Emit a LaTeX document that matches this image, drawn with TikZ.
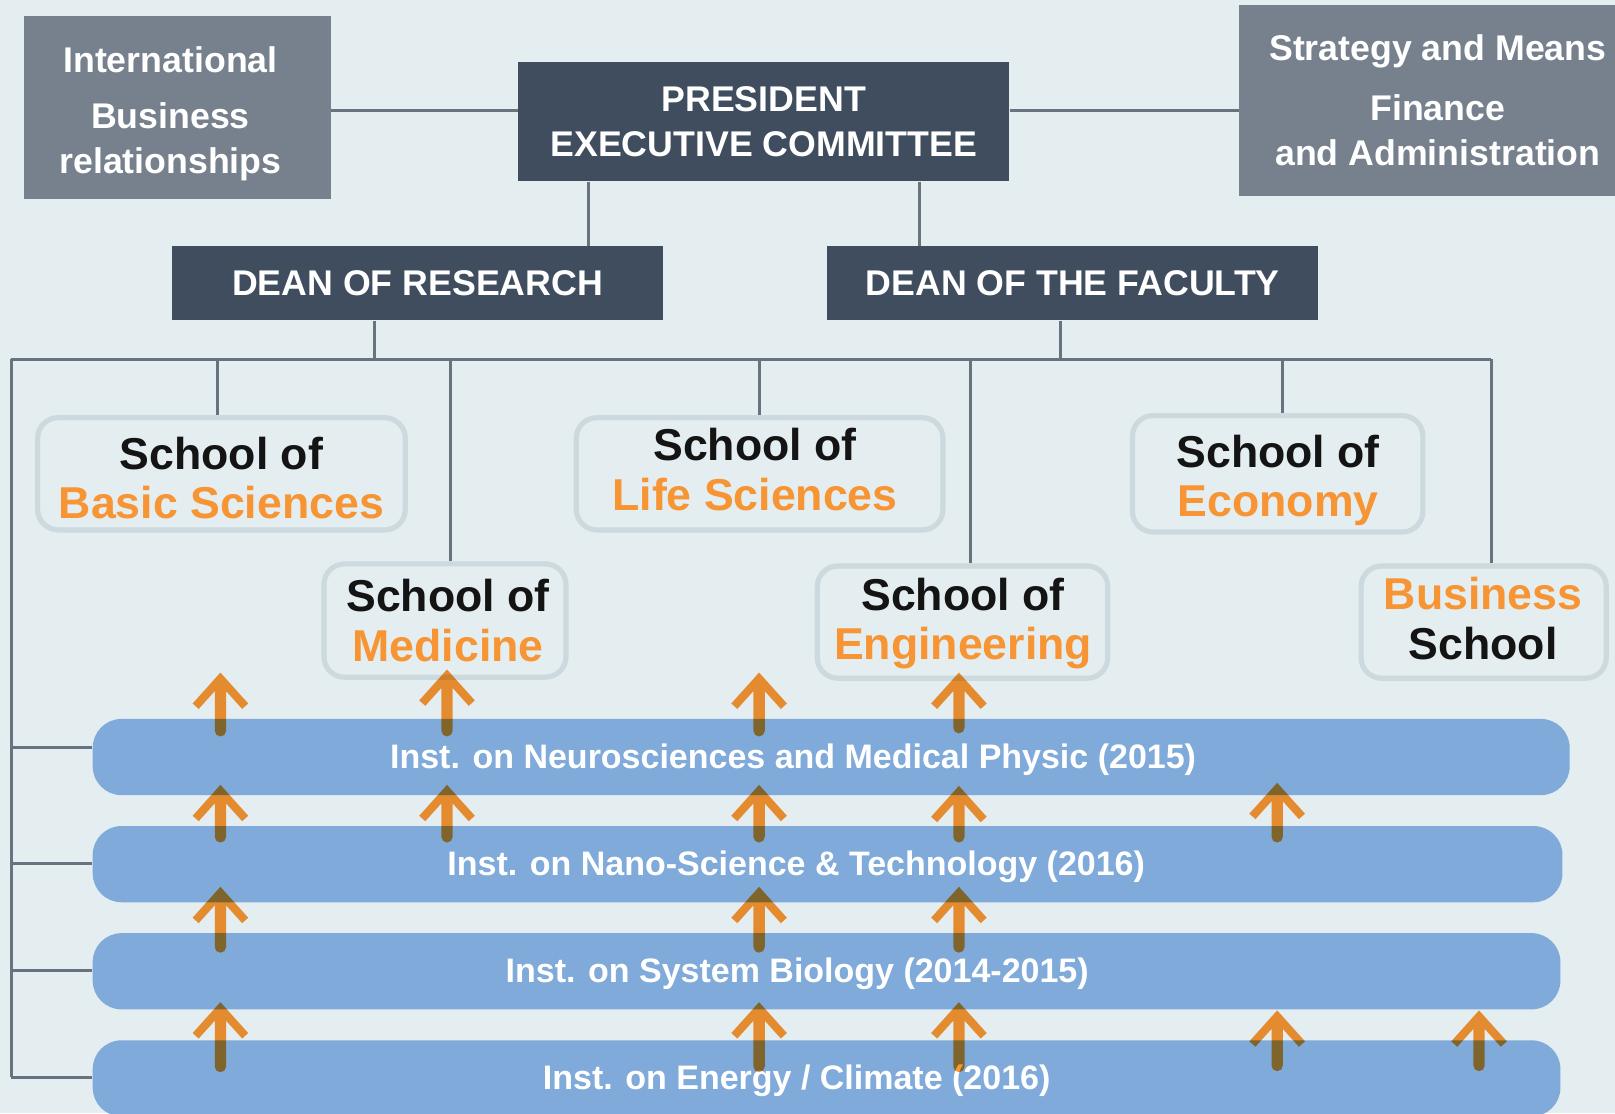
\documentclass[tikz,border=0pt]{standalone}
\usepackage{fontspec}
\setmainfont{Liberation Sans}
\usepackage{tikz}
\definecolor{orangetxt}{RGB}{247,148,51}

\begin{document}
\begin{tikzpicture}[x=0.75pt,y=0.75pt,yscale=-1,xscale=1,
  link/.style={draw={rgb, 255:red, 104; green, 115; blue, 128 }, line width=2.25pt},
  sidebox/.style={fill={rgb, 255:red, 118; green, 129; blue, 141 }, text=white, align=center, inner sep=0pt, font=\bfseries\fontsize{26}{33}\selectfont},
  headbox/.style={fill={rgb, 255:red, 63; green, 77; blue, 94 }, text=white, align=center, inner sep=0pt, font=\bfseries\fontsize{26}{33}\selectfont},
  school/.style={draw={rgb, 255:red, 204; green, 217; blue, 223 }, line width=3.75pt, rounded corners=15pt, fill={rgb, 255:red, 228; green, 237; blue, 240 }, inner sep=0pt},
  schooltext/.style={align=center, inner sep=0pt, text={rgb, 255:red, 20; green, 20; blue, 20 }, font=\bfseries\fontsize{32.5}{36}\selectfont},
  band/.style={fill={rgb, 255:red, 127; green, 170; blue, 218 }, rounded corners=21pt, inner sep=0pt, minimum height=55.5pt},
  bandtext/.style={text=white, font=\bfseries\fontsize{24.75}{30}\selectfont},
  arr/.style={fill={rgb, 255:red, 255; green, 150; blue, 52 }}
]
%set diagram left start at 0, and has height of 1081
\useasboundingbox (0,0) rectangle (1568,1081);
\fill[fill={rgb, 255:red, 228; green, 237; blue, 240 }] (0,0) rectangle (1568,1081);

%Shape: Rectangle [id:intl]
\node[sidebox, minimum width=223.5pt, minimum height=132.75pt] (intl) at (172,104.5) {};
% Text Node
\node[sidebox, fill=none] (intltext) at (165.5,110.5) {International\\[7.5pt]Business\\relationships};
%Shape: Rectangle [id:strat]
\node[sidebox, minimum width=289.5pt, minimum height=138.75pt] (strat) at (1396,97.5) {Strategy and Means\\[10.5pt]Finance\\and Administration};
%Shape: Rectangle [id:pres]
\node[headbox, minimum width=357.75pt, minimum height=87pt] (pres) at (741.5,118) {PRESIDENT\\EXECUTIVE COMMITTEE};
%Shape: Rectangle [id:research]
\node[headbox, minimum width=357.75pt, minimum height=54pt] (research) at (405.5,275) {DEAN OF RESEARCH};
%Shape: Rectangle [id:faculty]
\node[headbox, minimum width=357.75pt, minimum height=54pt] (faculty) at (1041.5,275) {DEAN OF THE FACULTY};

%Rounded Rect [id:schools]
\node[school, minimum width=267.75pt, minimum height=81.75pt] (basic) at (215,460) {};
\node[school, minimum width=176.25pt, minimum height=82.5pt] (medicine) at (432,602.5) {};
\node[school, minimum width=267pt, minimum height=81.75pt] (life) at (737.5,460) {};
\node[school, minimum width=211.5pt, minimum height=81.75pt] (engineering) at (934.5,604) {};
\node[school, minimum width=211.5pt, minimum height=84.75pt] (economy) at (1240.5,460) {};
\node[school, minimum width=178.5pt, minimum height=81.75pt] (business) at (1440.5,604) {};

% Text Node
\node[schooltext] (basictext) at (215,464) {School of\\\textcolor{orangetxt}{Basic Sciences}};
% Text Node
\node[schooltext] (medicinetext) at (435,602.5) {School of\\\textcolor{orangetxt}{Medicine}};
% Text Node
\node[schooltext] (lifetext) at (733,456) {School of\\\textcolor{orangetxt}{Life Sciences}};
% Text Node
\node[schooltext] (engineeringtext) at (935,605.5) {School of\\\textcolor{orangetxt}{Engineering}};
% Text Node
\node[schooltext] (economytext) at (1241,466.5) {School of\\\textcolor{orangetxt}{Economy}};
% Text Node
\node[schooltext] (businesstext) at (1440,600.5) {\textcolor{orangetxt}{Business}\\School};

%Rounded Rect [id:institutes]
\node[band, minimum width=1075.5pt] (neuro) at (807,735) {};
\node[band, minimum width=1070.25pt] (nano) at (803.5,839) {};
\node[band, minimum width=1068.75pt] (sysbio) at (802.5,943) {};
\node[band, minimum width=1068.75pt] (energy) at (802.5,1047) {};

% Text Node
\node[bandtext] (neurotext) at (770,738) {Inst. on Neurosciences and Medical Physic (2015)};
% Text Node
\node[bandtext] (nanotext) at (773,841.5) {Inst. on Nano-Science \& Technology (2016)};
% Text Node
\node[bandtext] (sysbiotext) at (774,945.5) {Inst. on System Biology (2014-2015)};
% Text Node
\node[bandtext] (energytext) at (773.5,1049.5) {Inst. on Energy / Climate (2016)};

%Straight Lines [id:top]
\coordinate (lt) at (400,107);
\draw[link] (intl.east |- lt) -- (pres.west |- lt);
\draw[link] (pres.east |- lt) -- (strat.west |- lt);
\coordinate (pl) at (571,0);
\coordinate (pr) at (893,0);
\draw[link] (pres.south -| pl) -- (research.north -| pl);
\draw[link] (pres.south -| pr) -- (faculty.north -| pr);

%Straight Lines [id:bus]
\coordinate (busl) at (11,349);
\coordinate (busr) at (1448,349);
\coordinate (dr) at (364,349);
\coordinate (df) at (1030,349);
\draw[link] (busl) -- (busr);
\draw[link] (research.south -| dr) -- (dr);
\draw[link] (faculty.south -| df) -- (df);
\foreach \n/\x in {basic/211, medicine/437, life/737, engineering/942, economy/1245, business/1448}{
  \coordinate (d\n) at (\x,349);
  \draw[link] (d\n) -- (d\n |- \n.north);
}

%Straight Lines [id:left]
\foreach \n/\y in {neuro/726, nano/838, sysbio/942, energy/1046}{
  \coordinate (l\n) at (11,\y);
  \draw[link] (l\n) -- (l\n -| \n.west);
}
\draw[link] (busl) -- (lenergy);

%Shape: Arrows [id:up]
\begin{scope}[blend mode=multiply]
\foreach \ax/\at/\ab in {214/653/715, 434/650/715, 737/653/715, 931/653/712,
    214/762/818, 434/762/818, 737/762/818, 931/763/818, 1240/760/818,
    214/861/925, 737/861/925, 931/861/925,
    214/973/1041, 737/973/1041, 931/973/1041, 1240/981/1040, 1436/981/1040}{
  \fill[arr] (\ax,\at) -- (\ax-27,\at+30) -- (\ax-21.1,\at+35.3) -- (\ax-5.5,\at+18) -- (\ax-5.5,\ab-5.5) arc[start angle=180, end angle=0, radius=5.5] -- (\ax+5.5,\at+18) -- (\ax+21.1,\at+35.3) -- (\ax+27,\at+30) -- cycle;
}
\end{scope}
\end{tikzpicture}
\end{document}
